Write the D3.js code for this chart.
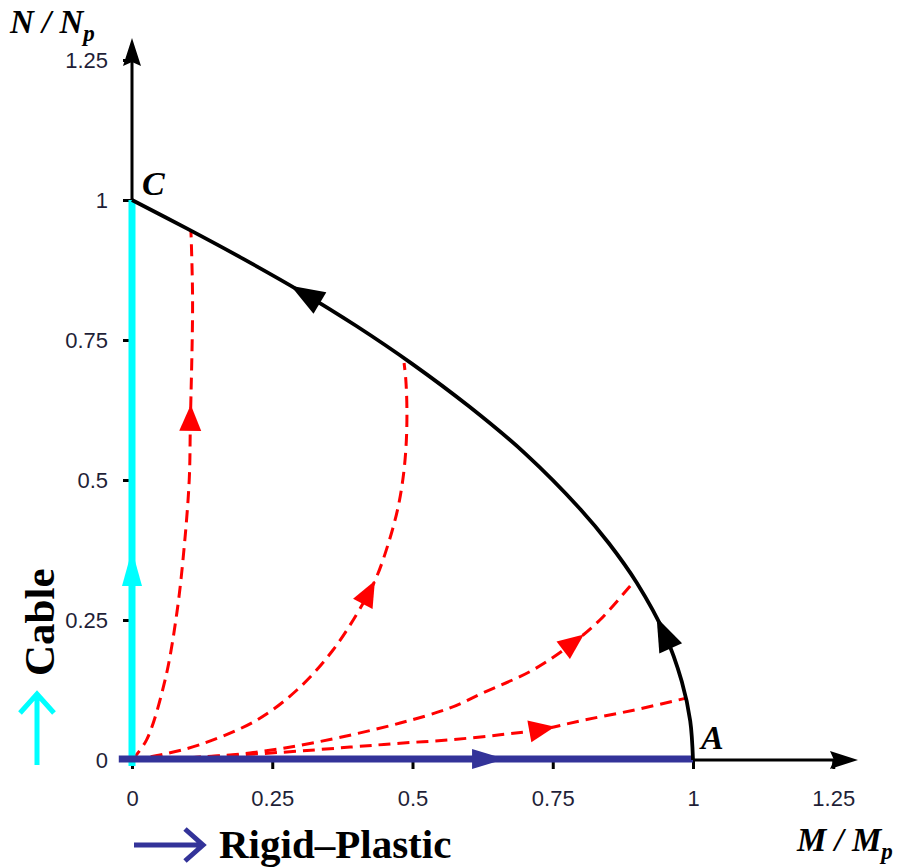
<!DOCTYPE html>
<html>
<head>
<meta charset="utf-8">
<script src="https://cdn.jsdelivr.net/npm/d3@7"></script>
<style>
  body { margin: 0; background: #fff; }
  svg { display: block; }
</style>
</head>
<body>
<div id="chart"></div>
<script>
// tick values and labels (both axes share them)
const tickValues = [0, 0.25, 0.5, 0.75, 1, 1.25];
const tickLabels = ["0", "0.25", "0.5", "0.75", "1", "1.25"];

// plastic interaction curve, from A (1,0) to C (0,1)
const plasticM = [1.0, 0.995, 0.98, 0.95, 0.90, 0.85, 0.80, 0.70, 0.60, 0.50, 0.40, 0.30, 0.20, 0.10, 0.0];
const plasticN = [0.0, 0.07, 0.14, 0.224, 0.316, 0.387, 0.447, 0.548, 0.632, 0.707, 0.775, 0.837, 0.894, 0.948, 1.0];

// red dashed load paths from the origin
const path1M = [0, 0.026, 0.059, 0.080, 0.093, 0.102, 0.104, 0.108, 0.105];
const path1N = [0, 0.036, 0.143, 0.263, 0.380, 0.5, 0.6, 0.82, 0.946];
const path2M = [0, 0.05, 0.12, 0.222, 0.294, 0.358, 0.412, 0.436, 0.458, 0.474, 0.484, 0.489, 0.490, 0.488, 0.485];
const path2N = [0, 0.009, 0.027, 0.071, 0.125, 0.196, 0.28, 0.327, 0.39, 0.45, 0.51, 0.57, 0.63, 0.68, 0.709];
const path3M = [0, 0.1, 0.21, 0.33, 0.478, 0.567, 0.626, 0.715, 0.786, 0.834, 0.894];
const path3N = [0, 0.004, 0.0125, 0.032, 0.066, 0.093, 0.12, 0.161, 0.209, 0.25, 0.318];
const path4M = [0, 0.12, 0.27, 0.389, 0.478, 0.567, 0.656, 0.727, 0.804, 0.894, 0.986];
const path4N = [0, 0.005, 0.014, 0.023, 0.03, 0.036, 0.045, 0.054, 0.071, 0.089, 0.11];

// where the direction arrows sit (M, N of the tip)
const plasticArrows = [[0.936, 0.255], [0.282, 0.845]];
const pathArrows = [[0.106, 0.634], [0.43, 0.321], [0.804, 0.226], [0.754, 0.059]];

// cable path (along N axis) and rigid-plastic path (along M axis)
const cableN = [0, 1];
const rigidM = [-0.02, 1];
const cableArrowN = 0.375;
const rigidArrowM = 0.665;

const W = 901, H = 867;
const svg = d3.select("#chart").append("svg")
    .attr("width", W)
    .attr("height", H);

const x = d3.scaleLinear().domain([0, 1]).range([132, 693]);
const y = d3.scaleLinear().domain([0, 1]).range([760, 200]);

const tickFmt = (d, i) => tickLabels[i];

// axes ticks
const xAxis = svg.append("g")
    .attr("transform", `translate(0,${y(0)})`)
    .call(d3.axisBottom(x).tickValues(tickValues).tickFormat(tickFmt)
        .tickSize(9).tickSizeOuter(0).tickPadding(21));
const yAxis = svg.append("g")
    .attr("transform", `translate(${x(0)},0)`)
    .call(d3.axisLeft(y).tickValues(tickValues).tickFormat(tickFmt)
        .tickSize(9).tickSizeOuter(0).tickPadding(15));

[xAxis, yAxis].forEach(a => {
    a.select(".domain").remove();
    a.selectAll(".tick line").attr("stroke", "#000").attr("stroke-width", 3);
    a.selectAll(".tick text")
        .attr("fill", "#1f1f38")
        .style("font-family", "'Liberation Sans', Arial, sans-serif")
        .style("font-size", "22px");
});

// axis lines with arrow heads
svg.append("line")
    .attr("x1", x(-0.02)).attr("x2", 834)
    .attr("y1", y(0)).attr("y2", y(0))
    .attr("stroke", "#000").attr("stroke-width", 3);
svg.append("path")
    .attr("d", `M858,${y(0)} L830,${y(0) - 9} L834,${y(0)} L830,${y(0) + 9} Z`)
    .attr("fill", "#000");
svg.append("line")
    .attr("x1", x(0)).attr("x2", x(0))
    .attr("y1", y(0) + 4).attr("y2", 62)
    .attr("stroke", "#000").attr("stroke-width", 3);
svg.append("path")
    .attr("d", `M${x(0)},38 L${x(0) - 9},66 L${x(0)},62 L${x(0) + 9},66 Z`)
    .attr("fill", "#000");

const lineGen = d3.line()
    .x(d => x(d[0]))
    .y(d => y(d[1]))
    .curve(d3.curveCatmullRom.alpha(0.5));

function zip(ms, ns) { return ms.map((m, i) => [m, ns[i]]); }

// arrow head on a drawn path, near a target point
function arrowOnPath(node, target, len, wid, color) {
    const tx = x(target[0]), ty = y(target[1]);
    const total = node.getTotalLength();
    let best = 0, bd = Infinity;
    for (let l = 0; l <= total; l += 0.5) {
        const p = node.getPointAtLength(l);
        const d = (p.x - tx) ** 2 + (p.y - ty) ** 2;
        if (d < bd) { bd = d; best = l; }
    }
    const tip = node.getPointAtLength(best);
    const back = node.getPointAtLength(Math.max(0, best - len));
    let dx = tip.x - back.x, dy = tip.y - back.y;
    const n = Math.hypot(dx, dy);
    dx /= n; dy /= n;
    const bx = tip.x - dx * len, by = tip.y - dy * len;
    const px = -dy * wid / 2, py = dx * wid / 2;
    svg.append("path")
        .attr("d", `M${tip.x},${tip.y} L${bx + px},${by + py} L${bx - px},${by - py} Z`)
        .attr("fill", color);
}

// red dashed paths
const redPaths = [zip(path1M, path1N), zip(path2M, path2N), zip(path3M, path3N), zip(path4M, path4N)];
redPaths.forEach((pts, i) => {
    const p = svg.append("path")
        .datum(pts)
        .attr("d", lineGen)
        .attr("fill", "none")
        .attr("stroke", "#ff0000")
        .attr("stroke-width", 3)
        .attr("stroke-dasharray", "12,7");
    arrowOnPath(p.node(), pathArrows[i], 26, 22, "#ff0000");
});

// cable (cyan) along N axis
svg.append("line")
    .attr("x1", x(0)).attr("x2", x(0))
    .attr("y1", y(cableN[0]) + 6).attr("y2", y(cableN[1]))
    .attr("stroke", "#00ffff").attr("stroke-width", 7);
svg.append("path")
    .attr("d", `M${x(0)},${y(cableArrowN)} L${x(0) - 10},${y(cableArrowN) + 36} L${x(0) + 10},${y(cableArrowN) + 36} Z`)
    .attr("fill", "#00ffff");

// rigid-plastic (navy) along M axis
svg.append("line")
    .attr("x1", x(rigidM[0]) - 2).attr("x2", x(rigidM[1]))
    .attr("y1", y(0) - 1).attr("y2", y(0) - 1)
    .attr("stroke", "#333399").attr("stroke-width", 7);
svg.append("path")
    .attr("d", `M${x(rigidArrowM)},${y(0) - 1} L${x(rigidArrowM) - 33},${y(0) - 11} L${x(rigidArrowM) - 33},${y(0) + 9} Z`)
    .attr("fill", "#333399");

// plastic interaction curve
const pc = svg.append("path")
    .datum(zip(plasticM, plasticN))
    .attr("d", lineGen)
    .attr("fill", "none")
    .attr("stroke", "#000")
    .attr("stroke-width", 3.8);
plasticArrows.forEach(a => arrowOnPath(pc.node(), a, 34, 25, "#000"));

// axis titles
const serif = "'Liberation Serif', 'Times New Roman', serif";
function title(tx, ty, main, sub) {
    const t = svg.append("text")
        .attr("x", tx).attr("y", ty)
        .style("font-family", serif)
        .style("font-weight", "bold")
        .style("font-style", "italic")
        .style("font-size", "33px")
        .attr("fill", "#000");
    t.append("tspan").text(main);
    t.append("tspan").attr("dy", 8).style("font-size", "23px").text(sub);
}
title(10, 33, "N / N", "p");
title(797, 851, "M / M", "p");

svg.append("text")
    .attr("x", 142).attr("y", 195)
    .style("font-family", serif).style("font-weight", "bold").style("font-style", "italic")
    .style("font-size", "34px").text("C");
svg.append("text")
    .attr("x", 701).attr("y", 749)
    .style("font-family", serif).style("font-weight", "bold").style("font-style", "italic")
    .style("font-size", "34px").text("A");

// legend: cable
svg.append("path")
    .attr("d", "M37,765 L37,694 M20,713 L37,694 L54,713")
    .attr("fill", "none").attr("stroke", "#00ffff").attr("stroke-width", 5);
svg.append("text")
    .attr("transform", "translate(54,676) rotate(-90)")
    .style("font-family", serif).style("font-weight", "bold")
    .style("font-size", "43px").text("Cable");

// legend: rigid-plastic
svg.append("path")
    .attr("d", "M134,845 L203,845 M185,829 L203,845 L185,861")
    .attr("fill", "none").attr("stroke", "#333399").attr("stroke-width", 5);
svg.append("text")
    .attr("x", 219).attr("y", 858)
    .style("font-family", serif).style("font-weight", "bold")
    .style("font-size", "41px").text("Rigid\u2013Plastic");
</script>
</body>
</html>
